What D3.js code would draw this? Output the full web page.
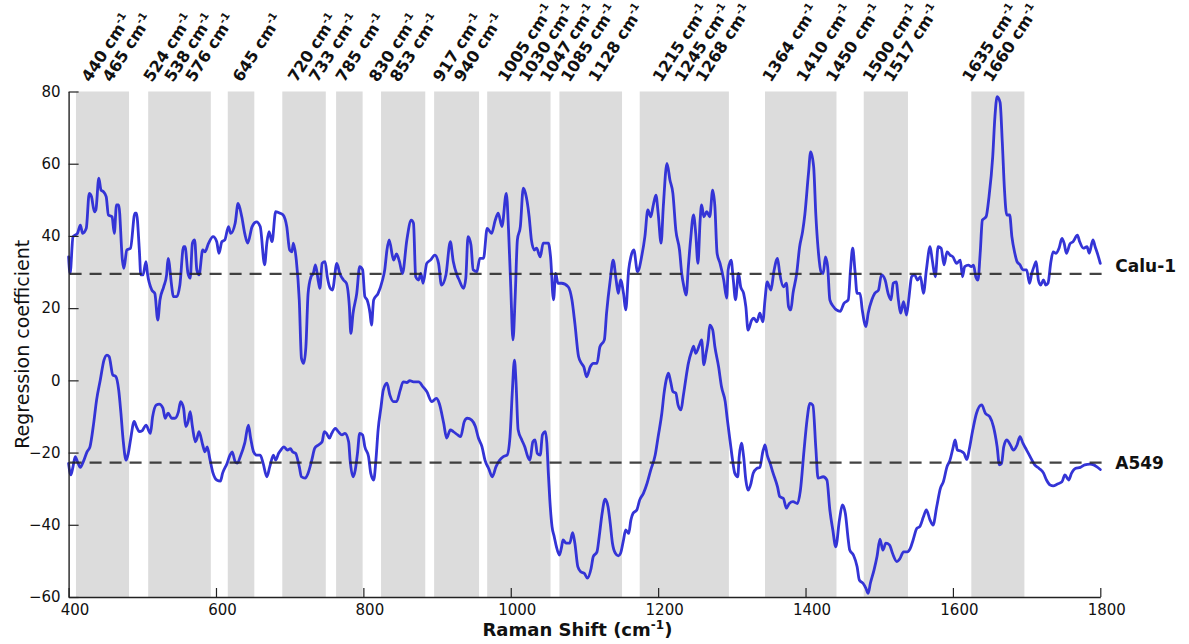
<!DOCTYPE html>
<html>
<head>
<meta charset="utf-8">
<script src="https://cdn.jsdelivr.net/npm/d3@7/dist/d3.min.js"></script>
<style>
  html, body { margin: 0; padding: 0; background: #fff; }
  svg { display: block; }
</style>
</head>
<body>
<svg id="chart" width="1189" height="644"></svg>
<script>
// Regression coefficients (offset for display) against Raman shift, cm-1
const calu1 = [
  [400,34.2],[402,29.6],[406,39.8],[412,40.7],[416,43.0],[419,40.7],[424,42.1],[428,51.8],[431,50.9],[435,46.7],
  [437,47.2],[441,56.0],[444,52.7],[447,52.3],[451,50.9],[454,45.8],[459,45.3],[462,40.7],[465,48.6],[468,48.6],
  [473,33.3],[475,31.0],[479,36.1],[484,36.6],[490,46.3],[492,46.3],[496,36.1],[498,29.2],[501,29.2],[505,32.9],
  [507,29.6],[513,25.0],[517,24.1],[521,16.7],[524,22.3],[529,25.9],[533,29.2],[535,33.8],[540,25.9],[542,23.2],
  [547,23.2],[551,26.4],[556,37.0],[558,37.0],[562,29.6],[565,28.3],[568,38.0],[571,38.9],[574,30.6],[577,29.2],
  [582,36.1],[585,35.6],[590,38.0],[596,39.8],[601,38.4],[604,35.2],[608,38.4],[612,38.9],[617,42.6],[620,40.7],
  [626,43.5],[630,49.0],[635,45.3],[639,40.7],[643,38.0],[649,42.6],[655,43.9],[660,42.6],[666,32.0],[669,38.0],
  [672,41.2],[676,38.4],[681,46.7],[687,46.3],[691,45.8],[696,42.6],[700,36.1],[703,35.6],[705,38.0],[709,33.3],
  [713,22.3],[716,6.1],[719,4.7],[722,9.3],[725,24.1],[729,28.7],[732,29.6],[735,32.0],[739,27.3],[741,25.5],
  [744,32.4],[748,32.9],[751,28.7],[755,25.5],[758,25.0],[764,32.4],[768,29.6],[773,27.8],[777,26.9],[781,20.4],
  [783,13.0],[786,18.6],[791,24.1],[795,31.5],[799,30.6],[802,23.2],[805,22.3],[809,18.6],[811,15.3],[814,22.3],
  [820,24.1],[826,27.8],[829,30.6],[832,36.1],[835,38.9],[841,33.3],[845,35.0],[849,32.9],[853,29.6],[859,38.9],
  [865,44.4],[868,43.5],[871,28.7],[875,27.8],[878,29.6],[881,26.9],[886,32.4],[891,33.3],[897,34.7],[902,32.4],
  [906,26.4],[912,29.2],[918,38.4],[922,32.9],[927,29.2],[930,27.8],[936,25.5],[939,28.3],[942,39.8],[946,37.5],
  [949,30.6],[954,30.1],[958,33.8],[963,33.8],[968,42.1],[974,40.7],[979,44.4],[983,46.3],[988,42.6],[994,51.8],
  [997,41.6],[1000,25.9],[1003,11.2],[1006,23.2],[1009,38.9],[1013,42.6],[1017,53.2],[1020,51.8],[1025,45.3],[1028,38.9],
  [1032,36.1],[1035,36.6],[1040,34.2],[1044,38.0],[1051,38.0],[1054,34.2],[1058,22.3],[1061,29.6],[1064,26.9],[1069,26.9],
  [1078,25.9],[1083,22.3],[1087,15.8],[1092,6.6],[1096,4.7],[1099,3.8],[1103,1.0],[1108,3.8],[1112,4.7],[1117,4.7],
  [1121,9.3],[1127,11.2],[1130,18.6],[1135,27.8],[1139,33.3],[1143,27.8],[1146,24.1],[1149,27.8],[1153,24.1],[1156,19.5],
  [1160,30.6],[1163,34.2],[1167,36.1],[1172,30.1],[1178,34.7],[1182,39.8],[1186,47.2],[1190,45.3],[1193,48.1],[1197,51.3],
  [1200,46.3],[1204,38.0],[1207,48.1],[1212,60.1],[1216,55.5],[1220,51.8],[1224,41.6],[1229,36.1],[1232,29.6],[1235,25.9],
  [1238,23.6],[1241,31.5],[1244,38.9],[1248,45.8],[1251,40.7],[1254,32.4],[1257,44.4],[1259,48.6],[1262,45.3],[1266,46.7],
  [1270,45.3],[1274,52.7],[1277,48.1],[1280,35.2],[1284,32.4],[1289,27.8],[1293,22.8],[1295,30.6],[1299,33.3],[1302,27.8],
  [1305,22.3],[1309,29.6],[1312,25.9],[1316,24.1],[1319,20.4],[1322,13.9],[1327,16.7],[1330,17.2],[1334,16.2],[1338,18.6],
  [1342,16.2],[1345,22.3],[1348,27.3],[1353,25.0],[1357,30.1],[1362,33.8],[1365,29.6],[1370,25.9],[1374,26.9],[1377,20.4],
  [1380,19.5],[1383,24.1],[1388,29.6],[1392,37.0],[1396,41.2],[1399,45.8],[1404,57.3],[1407,63.3],[1411,59.2],[1414,45.8],
  [1417,36.6],[1421,30.1],[1424,29.6],[1427,34.2],[1430,31.5],[1433,22.3],[1438,20.4],[1442,19.5],[1447,19.1],[1452,21.3],
  [1458,22.3],[1461,30.6],[1464,36.6],[1467,30.6],[1470,24.1],[1474,24.1],[1477,19.5],[1482,14.9],[1485,18.6],[1490,22.3],
  [1494,24.1],[1499,25.0],[1503,29.2],[1508,27.8],[1512,24.1],[1516,22.3],[1519,26.9],[1523,27.3],[1526,22.3],[1529,18.6],
  [1533,21.8],[1537,18.1],[1540,22.3],[1544,28.7],[1548,29.2],[1552,27.8],[1556,28.7],[1560,24.1],[1564,30.6],[1569,37.0],
  [1572,33.3],[1576,28.7],[1580,37.0],[1584,36.6],[1588,32.0],[1592,35.6],[1596,34.7],[1600,34.2],[1605,32.4],[1610,33.3],
  [1613,28.7],[1616,31.5],[1621,31.9],[1625,31.5],[1628,31.9],[1631,28.7],[1634,27.8],[1637,35.2],[1640,44.4],[1645,45.3],
  [1649,50.9],[1654,61.9],[1657,73.0],[1660,78.6],[1664,77.0],[1667,66.0],[1670,52.7],[1673,45.8],[1677,45.8],[1680,39.8],
  [1684,35.2],[1687,32.9],[1691,32.0],[1695,30.6],[1700,30.6],[1704,26.9],[1707,29.6],[1710,31.5],[1713,32.9],[1716,27.8],
  [1719,26.4],[1723,27.8],[1726,26.4],[1729,26.9],[1733,32.9],[1736,35.6],[1740,35.2],[1744,36.6],[1748,39.3],[1751,37.9],
  [1754,35.2],[1759,37.9],[1763,38.4],[1769,40.2],[1772,38.4],[1777,36.6],[1782,37.0],[1785,35.2],[1790,38.9],[1793,37.0],
  [1796,35.2],[1800,32.4]
];

const a549 = [
  [400,-23.0],[403,-26.2],[406,-23.9],[409,-21.1],[412,-22.5],[416,-24.1],[420,-22.5],[425,-19.8],[429,-18.4],[434,-11.9],
  [438,-5.4],[443,0.1],[448,5.6],[452,7.0],[455,6.6],[460,1.5],[464,1.1],[468,-2.7],[471,-9.1],[474,-16.5],
  [478,-22.1],[481,-20.2],[484,-16.5],[489,-11.4],[492,-12.8],[496,-14.2],[500,-13.9],[505,-12.4],[511,-14.7],[514,-10.1],
  [519,-6.8],[523,-6.6],[528,-7.7],[531,-10.5],[535,-9.1],[540,-10.5],[544,-10.5],[549,-8.7],[552,-5.9],[556,-7.7],
  [559,-12.8],[562,-11.5],[565,-8.7],[568,-12.8],[572,-17.0],[574,-16.2],[577,-14.2],[582,-17.9],[585,-19.8],[588,-18.4],
  [592,-22.1],[596,-25.7],[601,-27.6],[606,-27.9],[609,-25.7],[615,-23.0],[619,-20.7],[622,-19.8],[626,-22.5],[629,-22.9],
  [633,-21.1],[639,-17.4],[644,-12.4],[647,-16.0],[651,-19.8],[655,-20.7],[660,-20.7],[664,-23.0],[669,-26.7],[673,-23.9],
  [678,-20.7],[681,-22.1],[685,-20.2],[688,-19.3],[692,-18.4],[697,-19.3],[701,-18.9],[704,-19.8],[708,-20.2],[713,-23.9],
  [716,-26.7],[721,-27.1],[725,-25.7],[730,-22.1],[734,-18.8],[739,-17.9],[744,-17.0],[747,-14.2],[750,-14.7],[754,-16.0],
  [757,-14.7],[762,-13.3],[766,-14.2],[771,-15.1],[775,-14.7],[780,-17.0],[782,-22.1],[786,-26.7],[789,-24.8],[792,-20.2],
  [795,-14.7],[799,-15.1],[802,-18.4],[807,-21.1],[810,-25.7],[814,-27.6],[817,-22.1],[820,-13.7],[824,-7.3],[827,-2.7],
  [832,-0.8],[836,-4.1],[841,-5.9],[845,-5.9],[850,-2.7],[854,-0.4],[859,-0.6],[863,-0.1],[868,-0.4],[875,-0.4],
  [881,-1.8],[886,-3.1],[893,-5.9],[899,-5.0],[903,-6.4],[909,-11.9],[913,-16.0],[918,-13.7],[922,-14.2],[928,-15.1],
  [932,-15.6],[937,-11.4],[941,-10.5],[947,-11.0],[952,-12.8],[956,-15.9],[961,-18.4],[965,-22.1],[970,-24.4],[975,-26.7],
  [980,-23.9],[985,-22.1],[990,-21.1],[995,-20.7],[999,-15.6],[1002,-3.6],[1005,5.6],[1007,0.1],[1010,-13.7],[1015,-16.5],
  [1019,-18.4],[1023,-21.1],[1026,-22.1],[1030,-17.0],[1033,-16.5],[1036,-20.2],[1040,-20.7],[1043,-15.1],[1047,-14.2],[1049,-17.4],
  [1051,-25.7],[1053,-33.1],[1056,-40.5],[1059,-43.3],[1062,-46.1],[1066,-48.4],[1069,-46.1],[1071,-44.2],[1075,-45.1],[1080,-45.1],
  [1084,-42.2],[1087,-45.1],[1091,-51.6],[1095,-53.0],[1100,-53.5],[1104,-54.8],[1109,-52.1],[1112,-48.8],[1117,-47.5],[1120,-43.3],
  [1124,-36.8],[1128,-32.9],[1132,-35.0],[1135,-39.6],[1138,-45.1],[1142,-47.9],[1146,-48.6],[1149,-47.9],[1153,-44.2],[1156,-41.4],
  [1160,-42.4],[1163,-38.7],[1166,-36.8],[1171,-35.9],[1175,-33.1],[1180,-31.3],[1185,-28.5],[1190,-24.8],[1196,-20.7],[1200,-15.6],
  [1205,-9.1],[1208,-3.6],[1212,1.0],[1214,2.0],[1217,-0.4],[1220,-3.1],[1224,-3.5],[1227,-6.8],[1231,-8.2],[1234,-4.5],
  [1238,1.0],[1241,4.7],[1246,8.4],[1248,9.5],[1251,7.5],[1256,9.8],[1259,11.2],[1262,4.3],[1265,7.5],[1268,11.2],
  [1270,15.3],[1274,14.0],[1277,9.3],[1282,3.8],[1286,-1.8],[1291,-5.9],[1294,-11.0],[1298,-17.4],[1301,-22.1],[1304,-25.7],
  [1308,-26.7],[1310,-21.1],[1313,-17.4],[1316,-21.1],[1319,-27.6],[1322,-30.4],[1326,-28.5],[1329,-25.7],[1334,-24.4],[1338,-24.1],
  [1342,-19.8],[1345,-17.9],[1348,-20.7],[1352,-23.0],[1356,-25.7],[1362,-29.5],[1365,-32.2],[1370,-32.7],[1374,-35.4],[1378,-34.1],
  [1383,-33.6],[1389,-34.1],[1393,-30.5],[1398,-19.3],[1402,-11.0],[1406,-6.4],[1410,-6.9],[1414,-18.8],[1417,-27.1],[1424,-26.7],
  [1429,-27.6],[1433,-35.9],[1437,-41.4],[1441,-46.1],[1446,-38.7],[1450,-34.5],[1454,-36.8],[1458,-44.2],[1460,-47.0],[1465,-48.4],
  [1470,-51.6],[1473,-55.3],[1478,-56.2],[1482,-57.6],[1485,-59.0],[1488,-56.2],[1493,-52.5],[1497,-48.8],[1501,-44.0],[1505,-47.0],
  [1509,-45.1],[1514,-45.6],[1518,-47.9],[1524,-50.2],[1528,-49.4],[1533,-47.5],[1538,-47.5],[1542,-46.6],[1546,-44.2],[1551,-41.0],
  [1555,-40.5],[1560,-37.8],[1564,-35.9],[1569,-38.7],[1573,-40.1],[1578,-35.0],[1583,-29.9],[1587,-28.1],[1592,-23.9],[1596,-22.1],
  [1600,-18.8],[1603,-16.5],[1606,-19.3],[1611,-19.6],[1615,-20.2],[1619,-21.9],[1622,-19.3],[1627,-13.7],[1632,-9.1],[1639,-6.8],
  [1644,-9.1],[1650,-10.1],[1655,-12.8],[1660,-18.4],[1663,-23.4],[1666,-23.0],[1669,-18.4],[1673,-16.5],[1678,-17.9],[1682,-19.3],
  [1687,-17.9],[1691,-15.6],[1695,-17.4],[1700,-19.3],[1706,-21.6],[1711,-23.4],[1717,-24.4],[1723,-25.7],[1727,-27.6],[1732,-29.0],
  [1736,-29.2],[1742,-28.7],[1748,-28.1],[1752,-26.2],[1757,-27.6],[1761,-25.7],[1766,-24.4],[1773,-24.1],[1779,-23.4],[1786,-23.2],
  [1791,-23.4],[1795,-23.9],[1800,-24.7]
];

// Baseline level of each trace and its name
const seriesNames = ["Calu-1", "A549"];
const seriesLevels = [29.5, -22.8];

// Shaded spectral regions [from, to] in cm-1
const bands = [
  [410,482],[508,593],[616,652],[690,749],[763,799],[824,884],[896,957],
  [968,1054],[1066,1151],[1175,1296],[1345,1442],[1479,1539],[1625,1697]
];

// Assigned Raman bands, cm-1
const peaks = [440,465,524,538,576,645,720,733,785,830,853,917,940,1005,1030,1047,
  1085,1128,1215,1245,1268,1364,1410,1450,1500,1517,1635,1660];

const xTicks = [400,600,800,1000,1200,1400,1600,1800];
const yTicks = [-60,-40,-20,0,20,40,60,80];

const svg = d3.select("#chart");
const W = 1189, H = 644;
const margin = { left: 68.6, right: W - 1100.3, top: 91.5, bottom: H - 597 };

const x = d3.scaleLinear().domain([400, 1800]).range([margin.left, W - margin.right]);
const y = d3.scaleLinear().domain([-60, 80]).range([H - margin.bottom, margin.top]);

svg.append("rect").attr("width", W).attr("height", H).attr("fill", "#fff");

// grey regions
svg.append("g").selectAll("rect").data(bands).join("rect")
  .attr("x", d => x(d[0]))
  .attr("width", d => x(d[1]) - x(d[0]))
  .attr("y", y(80))
  .attr("height", y(-60) - y(80))
  .attr("fill", "#dcdcdc");

// traces
const line = d3.line().x(d => x(d[0])).y(d => y(d[1])).curve(d3.curveMonotoneX);
svg.append("g").selectAll("path").data([calu1, a549]).join("path")
  .attr("d", line)
  .attr("fill", "none")
  .attr("stroke", "#3434d6")
  .attr("stroke-width", 2.8)
  .attr("stroke-linejoin", "round")
  .attr("stroke-linecap", "round");

// dashed baselines
svg.append("g").selectAll("line").data(seriesLevels).join("line")
  .attr("x1", x(400) + 1)
  .attr("x2", x(1800) + 9)
  .attr("y1", d => y(d))
  .attr("y2", d => y(d))
  .attr("stroke", "#222")
  .attr("stroke-opacity", 0.85)
  .attr("stroke-width", 2.2)
  .attr("stroke-dasharray", "12,8");

// trace names
const nameDy = [-2, 6.5];
svg.append("g").selectAll("text").data(seriesNames).join("text")
  .attr("x", x(1800) + 15)
  .attr("y", (d, i) => y(seriesLevels[i]) + nameDy[i])
  .attr("font-family", "DejaVu Sans, sans-serif")
  .attr("font-weight", "bold")
  .attr("font-size", 17)
  .attr("fill", "#111")
  .text(d => d);

// axes
const fontTick = "DejaVu Sans, sans-serif";
const yAxis = svg.append("g")
  .attr("transform", `translate(${x(400)},0)`)
  .call(d3.axisLeft(y).tickValues(yTicks).tickFormat(d3.format("d"))
    .tickSizeInner(-10).tickSizeOuter(0).tickPadding(8));
const xAxis = svg.append("g")
  .attr("transform", `translate(0,${y(-60)})`)
  .call(d3.axisBottom(x).tickValues(xTicks).tickFormat(d3.format("d"))
    .tickSizeInner(-9).tickSizeOuter(0).tickPadding(7));
[yAxis, xAxis].forEach(g => {
  g.selectAll("text").attr("font-family", fontTick).attr("font-size", 15).attr("fill", "#111");
  g.selectAll("line").attr("stroke", "#222").attr("stroke-width", 1.2);
  g.select(".domain").attr("stroke", "#222").attr("stroke-width", 1.4);
});
xAxis.selectAll("text").attr("x", 6);

// axis titles
const xTitle = svg.append("text")
  .attr("x", (x(400) + x(1800)) / 2 - 7)
  .attr("y", 636)
  .attr("text-anchor", "middle")
  .attr("font-family", "DejaVu Sans, sans-serif")
  .attr("font-weight", "bold")
  .attr("font-size", 18)
  .attr("fill", "#111");
xTitle.append("tspan").text("Raman Shift (cm");
xTitle.append("tspan").attr("font-size", 12).attr("dy", -7).text("-1");
xTitle.append("tspan").attr("dy", 7).text(")");

svg.append("text")
  .attr("transform", `translate(29,${(y(80) + y(-60)) / 2}) rotate(-90)`)
  .attr("text-anchor", "middle")
  .attr("font-family", "DejaVu Sans, sans-serif")
  .attr("font-size", 19)
  .attr("fill", "#111")
  .text("Regression coefficient");

// band labels, spread apart where they would collide
const minGap = 21;
const labelX = [];
peaks.forEach((p, i) => {
  let lx = x(p) - 8;
  if (i > 0 && lx < labelX[i - 1] + minGap) lx = labelX[i - 1] + minGap;
  labelX.push(lx);
});
const labels = svg.append("g").selectAll("text").data(peaks).join("text")
  .attr("transform", (d, i) => `translate(${labelX[i]},83) rotate(-57)`)
  .attr("font-family", "DejaVu Sans, sans-serif")
  .attr("font-weight", "bold")
  .attr("font-size", 16)
  .attr("fill", "#111");
labels.append("tspan").text(d => `${d} cm`);
labels.append("tspan").attr("font-size", 10.5).attr("dy", -6.5).text("-1");
</script>
</body>
</html>
